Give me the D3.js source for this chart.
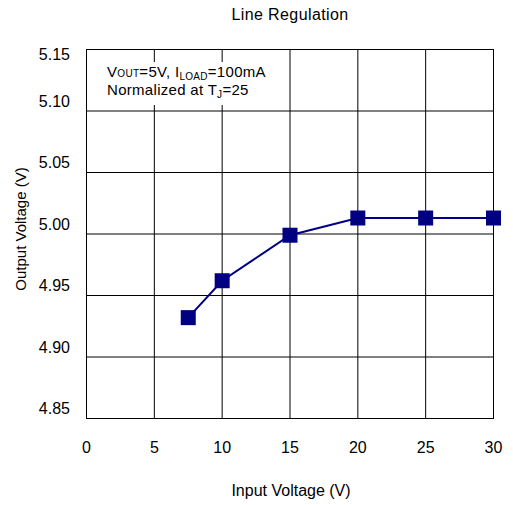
<!DOCTYPE html>
<html>
<head>
<meta charset="utf-8">
<script src="https://cdn.jsdelivr.net/npm/d3@7"></script>
<style>
  html, body { margin: 0; padding: 0; background: #fff; }
  svg { display: block; font-family: "Liberation Sans", Arial, sans-serif; }
</style>
</head>
<body>
<script>
// ---- data ----
const inputVoltage = [7.5, 10, 15, 20, 25, 30];
const outputVoltage = [4.932, 4.962, 4.999, 5.013, 5.013, 5.013];
const xTicks = [0, 5, 10, 15, 20, 25, 30];
const yTicks = [4.85, 4.90, 4.95, 5.00, 5.05, 5.10, 5.15];
const title = "Line Regulation";
const xTitle = "Input Voltage (V)";
const yTitle = "Output Voltage (V)";

const W = 513, H = 505;
const svg = d3.select("body").append("svg").attr("width", W).attr("height", H);

const x = d3.scaleLinear().domain([0, 30]).range([86.5, 493.5]);
const y = d3.scaleLinear().domain([4.85, 5.15]).range([418.5, 49.5]);

const fs = 16;

// gridlines
const g = svg.append("g");
g.selectAll("line.vx").data(xTicks).join("line")
  .attr("x1", d => x(d)).attr("x2", d => x(d))
  .attr("y1", y(5.15)).attr("y2", y(4.85))
  .attr("stroke", "#000").attr("stroke-width", 1);
g.selectAll("line.hy").data(yTicks).join("line")
  .attr("y1", d => y(d)).attr("y2", d => y(d))
  .attr("x1", x(0)).attr("x2", x(30))
  .attr("stroke", "#000").attr("stroke-width", 1);

// legend background
svg.append("rect").attr("x", 103).attr("y", 62).attr("width", 172).attr("height", 43).attr("fill", "#fff");

// frame
svg.append("rect")
  .attr("x", x(0)).attr("y", y(5.15))
  .attr("width", x(30) - x(0)).attr("height", y(4.85) - y(5.15))
  .attr("fill", "none").attr("stroke", "#000").attr("stroke-width", 1);

// x tick labels
svg.append("g").selectAll("text").data(xTicks).join("text")
  .attr("x", d => x(d)).attr("y", 452.5)
  .attr("text-anchor", "middle").attr("font-size", fs).attr("fill", "#000")
  .text(d => d);

// y tick labels
svg.append("g").selectAll("text").data(yTicks).join("text")
  .attr("x", 70).attr("y", d => Math.max(y(d) - 10, 54))
  .attr("dy", "0.35em")
  .attr("text-anchor", "end").attr("font-size", fs).attr("fill", "#000")
  .text(d => d.toFixed(2));

// line + markers
const line = d3.line().x((d, i) => x(inputVoltage[i])).y(d => y(d));
svg.append("path").datum(outputVoltage)
  .attr("d", line).attr("fill", "none")
  .attr("stroke", "#000080").attr("stroke-width", 2);
const ms = 15;
svg.append("g").selectAll("rect").data(outputVoltage).join("rect")
  .attr("x", (d, i) => x(inputVoltage[i]) - ms / 2)
  .attr("y", d => y(d) - ms / 2)
  .attr("width", ms).attr("height", ms)
  .attr("fill", "#000080");

// legend text
const lfs = 15;
const leg = svg.append("text").attr("x", 107).attr("y", 77.3).attr("font-size", lfs)
  .attr("letter-spacing", 0.3).attr("fill", "#000");
leg.append("tspan").text("V");
leg.append("tspan").attr("font-size", 10).text("OUT");
leg.append("tspan").text("=5V, I");
leg.append("tspan").attr("font-size", 10).attr("dy", 2.5).text("LOAD");
leg.append("tspan").attr("dy", -2.5).text("=100mA");

const leg2 = svg.append("text").attr("x", 107).attr("y", 95.3).attr("font-size", lfs)
  .attr("letter-spacing", 0.3).attr("fill", "#000");
leg2.append("tspan").text("Normalized at T");
leg2.append("tspan").attr("font-size", 10).attr("dy", 2.5).text("J");
leg2.append("tspan").attr("dy", -2.5).text("=25");

// titles
svg.append("text").attr("x", 290).attr("y", 19.5).attr("text-anchor", "middle")
  .attr("font-size", fs).attr("letter-spacing", 0.4).attr("fill", "#000").text(title);
svg.append("text").attr("x", 291).attr("y", 495.5).attr("text-anchor", "middle")
  .attr("font-size", fs).attr("fill", "#000").text(xTitle);
svg.append("text").attr("transform", "translate(26,229) rotate(-90)")
  .attr("text-anchor", "middle").attr("font-size", 15).attr("fill", "#000").text(yTitle);
</script>
</body>
</html>
